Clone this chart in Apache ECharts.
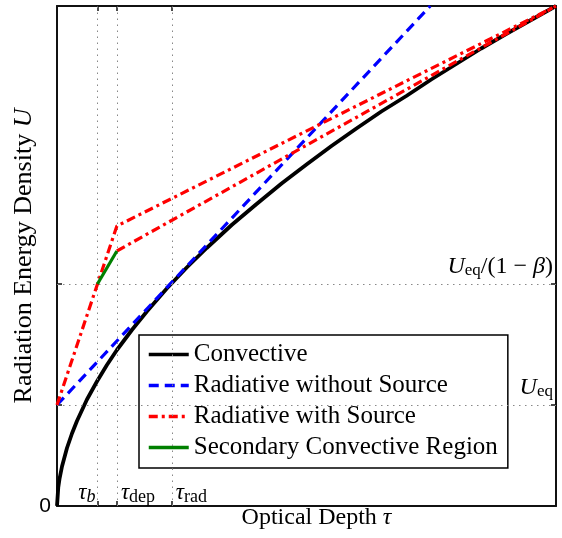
<!DOCTYPE html>
<html>
<head>
<meta charset="utf-8">
<script src="https://cdn.jsdelivr.net/npm/echarts@6/dist/echarts.min.js"></script>
<style>
  html, body { margin: 0; background: #fff; }
  #chart { width: 562px; height: 538px; }
</style>
</head>
<body>
<div id="chart"></div>
<script>
// values, axes normalised to 0..100
const convTau = [0, 0.25, 0.5, 1, 2, 3, 4, 6, 8, 10, 12, 15, 18, 22, 26, 30, 35, 40, 45, 50, 55, 60, 65, 70, 75, 80, 85, 90, 95, 100];
const convU = [0, 3.7, 5.4, 7.9, 11.6, 14.5, 17.0, 21.3, 24.9, 28.2, 31.2, 35.2, 38.9, 43.5, 47.7, 51.6, 56.2, 60.4, 64.5, 68.3, 72.0, 75.5, 78.9, 82.0, 85.3, 88.4, 91.5, 94.4, 97.2, 100];
const radTau = [0, 74.8];
const radU = [20.2, 100];
const srcUpperTau = [0, 12, 100];
const srcUpperU = [20.2, 56, 100];
const srcLowerTau = [12, 100];
const srcLowerU = [51, 100];
const secTau = [8.1, 12];
const secU = [44.4, 51];
const tauTicks = [8.1, 12, 23];
const tauSubs = ["b", "dep", "rad"];
const uTicks = [20.2, 44.4];
const uTickTails = ["", "/(1 − β)"];

const names = ["Convective", "Radiative without Source", "Radiative with Source", "Secondary Convective Region"];
const serif = "Liberation Serif";

const pairs = (xs, ys) => xs.map((x, i) => [x, ys[i]]);

const frame = { onZero: false, lineStyle: { color: "#111", width: 2 } };
const innerTicks = (vals) => ({ show: true, inside: true, length: 5, customValues: vals, lineStyle: { color: "#111", width: 1.5 } });

const option = {
  animation: false,
  grid: { left: 57, right: 6, top: 6, bottom: 32, outerBoundsMode: "none", containLabel: false },
  xAxis: [
    {
      type: "value", min: 0, max: 100,
      axisLine: frame, axisTick: innerTicks(tauTicks),
      axisLabel: { show: false }, splitLine: { show: false },
      name: "{n|Optical Depth }{t|τ}", nameLocation: "middle", nameGap: 0,
      nameTextStyle: {
        padding: [0, 0, 0, 20],
        rich: {
          n: { fontFamily: serif, fontSize: 24, color: "#000" },
          t: { fontFamily: serif, fontSize: 24, fontStyle: "italic", color: "#000" },
        },
      },
    },
    {
      type: "value", min: 0, max: 100, position: "top",
      axisLine: frame, axisTick: innerTicks(tauTicks),
      axisLabel: { show: false }, splitLine: { show: false },
    },
  ],
  yAxis: [
    {
      type: "value", min: 0, max: 100,
      axisLine: frame, axisTick: innerTicks(uTicks),
      axisLabel: { customValues: [0], margin: 6, fontFamily: "Liberation Sans", fontSize: 21, color: "#000" },
      splitLine: { show: false },
      name: "{n|Radiation Energy Density }{u|U}", nameLocation: "middle", nameGap: 20,
      nameMoveOverlap: false,
      nameTextStyle: {
        rich: {
          n: { fontFamily: serif, fontSize: 26, color: "#000" },
          u: { fontFamily: serif, fontSize: 26, fontStyle: "italic", color: "#000" },
        },
      },
    },
    {
      type: "value", min: 0, max: 100, position: "right",
      axisLine: frame, axisTick: innerTicks(uTicks),
      axisLabel: { show: false }, splitLine: { show: false },
    },
  ],
  legend: {
    data: names,
    orient: "vertical",
    left: 139, top: 335,
    padding: [7, 10, 8, 8],
    itemGap: 6,
    itemWidth: 40, itemHeight: 14,
    itemStyle: { opacity: 0 },
    lineStyle: { width: 3.5 },
    backgroundColor: "#fff",
    borderColor: "#000", borderWidth: 1.5, borderRadius: 0,
    textStyle: { fontFamily: serif, fontSize: 25, color: "#000" },
  },
  series: [
    {
      name: "guides", type: "line", data: [], z: 1, silent: true,
      markLine: {
        symbol: "none", silent: true, animation: false,
        label: { show: false },
        lineStyle: { color: "#888", type: [1.5, 4.5], width: 1 },
        data: [...tauTicks.map((t) => ({ xAxis: t })), ...uTicks.map((u) => ({ yAxis: u }))],
      },
    },
    {
      name: names[0], type: "line", symbol: "none",
      data: pairs(convTau, convU), z: 3,
      lineStyle: { color: "#000", width: 3.8 }, itemStyle: { color: "#000" },
    },
    {
      name: names[1], type: "line", symbol: "none",
      data: pairs(radTau, radU), z: 4,
      lineStyle: { color: "#0000ff", width: 3.2, type: [10, 6] }, itemStyle: { color: "#0000ff" },
    },
    {
      name: names[2], type: "line", symbol: "none", connectNulls: false,
      data: [...pairs(srcUpperTau, srcUpperU), "-", ...pairs(srcLowerTau, srcLowerU)], z: 5,
      lineStyle: { color: "#ff0000", width: 3.2, type: [9, 4, 3, 4] }, itemStyle: { color: "#ff0000" },
    },
    {
      name: names[3], type: "line", symbol: "none",
      data: pairs(secTau, secU), z: 6,
      lineStyle: { color: "#008000", width: 3.2 }, itemStyle: { color: "#008000" },
    },
  ],
};

const chart = echarts.init(document.getElementById("chart"));
chart.setOption(option);

// tick annotations placed from the axis scales
const subRich = (size, subSize) => ({
  m: { fontFamily: serif, fontSize: size, lineHeight: size, fontStyle: "italic", fill: "#000" },
  s: { fontFamily: serif, fontSize: subSize, lineHeight: subSize, padding: [8, 0, 0, 0], fill: "#000" },
  si: { fontFamily: serif, fontSize: subSize, lineHeight: subSize, padding: [8, 0, 0, 0], fontStyle: "italic", fill: "#000" },
  r: { fontFamily: serif, fontSize: size, lineHeight: size, fill: "#000" },
  i: { fontFamily: serif, fontSize: size, lineHeight: size, fontStyle: "italic", fill: "#000" },
});

const graphics = [];
tauTicks.forEach((t, i) => {
  const [px, py] = chart.convertToPixel({ xAxisIndex: 0, yAxisIndex: 0 }, [t, 0]);
  const subStyle = tauSubs[i].length === 1 ? "si" : "s";
  graphics.push({
    type: "text", x: i === 0 ? px - 2 : px + 4, y: py - 13, z: 10,
    style: {
      text: `{m|τ}{${subStyle}|${tauSubs[i]}}`, rich: subRich(23, 18),
      align: i === 0 ? "right" : "left", verticalAlign: "middle",
    },
  });
});
uTicks.forEach((u, i) => {
  const [px, py] = chart.convertToPixel({ xAxisIndex: 0, yAxisIndex: 0 }, [100, u]);
  const tail = uTickTails[i] ? `{r|/(1 − }{i|β}{r|)}` : "";
  graphics.push({
    type: "text", x: px - 3, y: py - 17, z: 10,
    style: { text: `{m|U}{s|eq}${tail}`, rich: subRich(24, 17), align: "right", verticalAlign: "middle" },
  });
});
chart.setOption({ graphic: graphics });
</script>
</body>
</html>
